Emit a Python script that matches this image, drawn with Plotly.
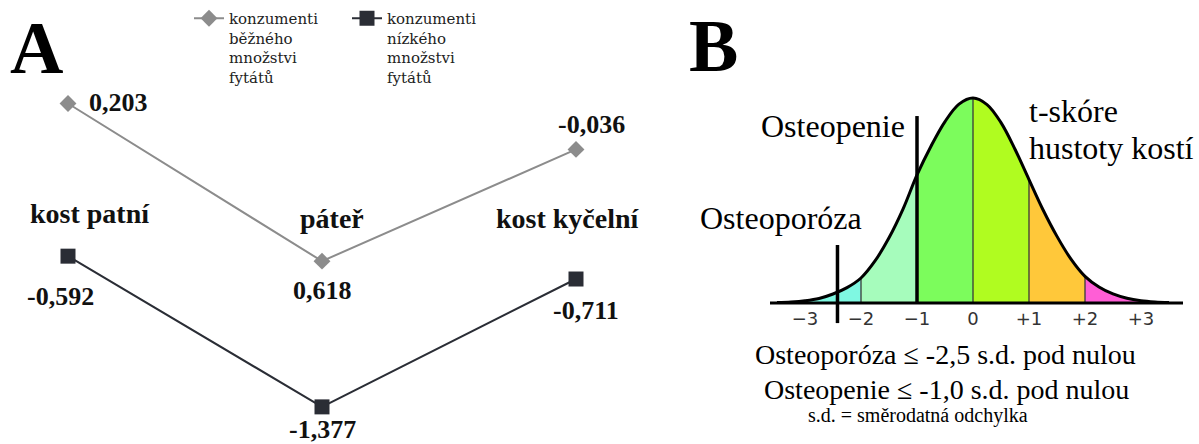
import plotly.graph_objects as go

# ---------------- Panel A data ----------------
categories = ["kost patní", "páteř", "kost kyčelní"]
series_regular_name = "konzumenti<br>běžného<br>množstvi<br>fytátů"
series_low_name = "konzumenti<br>nízkého<br>množstvi<br>fytátů"
regular_values = [0.203, -0.618, -0.036]
regular_labels = ["0,203", "0,618", "-0,036"]
low_values = [-0.592, -1.377, -0.711]
low_labels = ["-0,592", "-1,377", "-0,711"]

# ---------------- Panel B data ----------------
sd_x = [-3.5, -3.25, -3.0, -2.75, -2.5, -2.25, -2.0, -1.75, -1.5, -1.25, -1.0,
        -0.75, -0.5, -0.25, 0.0, 0.25, 0.5, 0.75, 1.0, 1.25, 1.5, 1.75, 2.0,
        2.25, 2.5, 2.75, 3.0, 3.25, 3.5]
curve_h = [0.002, 0.005, 0.011, 0.022, 0.044, 0.075, 0.122, 0.205, 0.318, 0.458, 0.625,
           0.765, 0.885, 0.970, 1.0, 0.968, 0.880, 0.750, 0.602, 0.455, 0.325, 0.214, 0.130,
           0.078, 0.044, 0.023, 0.011, 0.005, 0.002]
band_edges = [-3.5, -2.0, -1.0, 0.0, 1.0, 2.0, 3.5]
band_colors = ["#7ff8e2", "#a6fcbc", "#7cfc5c", "#b0fc20", "#ffc83a", "#ff5ed6"]
divider_x = [-2.0, 0.0, 1.0, 2.0]
tick_vals = [-3, -2, -1, 0, 1, 2, 3]
tick_text = ["\u22123", "\u22122", "\u22121", "0", "+1", "+2", "+3"]
osteopenia_sd = -1.0
osteoporosis_sd = -2.42

W, H = 1199, 444
SERIF = "Liberation Serif, Times New Roman, serif"

fig = go.Figure()

# ---- Panel A traces ----
xa = list(range(len(categories)))
fig.add_trace(go.Scatter(
    x=xa, y=regular_values, name=series_regular_name, mode="lines+markers",
    line=dict(color="#8c8c8c", width=2),
    marker=dict(symbol="diamond", size=13, color="#8c8c8c"),
    xaxis="x", yaxis="y"))
fig.add_trace(go.Scatter(
    x=xa, y=low_values, name=series_low_name, mode="lines+markers",
    line=dict(color="#2a2d35", width=2),
    marker=dict(symbol="square", size=15, color="#2a2d35"),
    xaxis="x", yaxis="y"))

annotations = []
# data labels
reg_shift = [(50, 1), (0, -29), (15, 25)]
low_shift = [(-8, -40), (0, -23), (10, -31)]
for i in range(3):
    annotations.append(dict(x=xa[i], y=regular_values[i], xref="x", yref="y",
                            text="<b>%s</b>" % regular_labels[i], showarrow=False,
                            xanchor="center", yanchor="middle",
                            xshift=reg_shift[i][0], yshift=reg_shift[i][1],
                            font=dict(family=SERIF, size=26, color="#111")))
    annotations.append(dict(x=xa[i], y=low_values[i], xref="x", yref="y",
                            text="<b>%s</b>" % low_labels[i], showarrow=False,
                            xanchor="center", yanchor="middle",
                            xshift=low_shift[i][0], yshift=low_shift[i][1],
                            font=dict(family=SERIF, size=26, color="#111")))
# category labels
cat_shift = [22, 10, -8]
cat_y = [213, 218, 218]
for i, c in enumerate(categories):
    annotations.append(dict(x=xa[i], y=1 - cat_y[i] / H, xref="x", yref="paper",
                            text="<b>%s</b>" % c, showarrow=False, xshift=cat_shift[i],
                            xanchor="center", yanchor="middle",
                            font=dict(family=SERIF, size=28, color="#111")))


def ann_p(text, cx, cy, size, xanchor="center", bold=False):
    annotations.append(dict(x=cx / W, y=1 - cy / H, xref="paper", yref="paper",
                            text=("<b>%s</b>" % text) if bold else text,
                            showarrow=False, xanchor=xanchor, yanchor="middle",
                            font=dict(family=SERIF, size=size, color="#000")))


# panel letters
ann_p("A", 36, 48, 74, bold=True)
ann_p("B", 713, 46, 74, bold=True)

# ---- Panel B traces ----
for k in range(len(band_colors)):
    a, b = band_edges[k], band_edges[k + 1]
    xs = [x for x in sd_x if a <= x <= b]
    ys = [curve_h[sd_x.index(x)] for x in xs]
    fig.add_trace(go.Scatter(
        x=[a] + xs + [b], y=[0] + ys + [0], mode="lines", fill="toself",
        fillcolor=band_colors[k], line=dict(width=0, color=band_colors[k]),
        showlegend=False, hoverinfo="skip", xaxis="x2", yaxis="y2"))

for d in divider_x:
    fig.add_trace(go.Scatter(
        x=[d, d], y=[0, curve_h[sd_x.index(d)]], mode="lines",
        line=dict(color="#3a3a3a", width=1.3), showlegend=False, hoverinfo="skip",
        xaxis="x2", yaxis="y2"))

fig.add_trace(go.Scatter(
    x=sd_x, y=curve_h, mode="lines", line=dict(color="#000", width=3, shape="spline"),
    showlegend=False, hoverinfo="skip", xaxis="x2", yaxis="y2"))
fig.add_trace(go.Scatter(
    x=[-3.625, 3.75], y=[0, 0], mode="lines", line=dict(color="#000", width=3),
    showlegend=False, hoverinfo="skip", xaxis="x2", yaxis="y2"))
fig.add_trace(go.Scatter(
    x=[osteopenia_sd, osteopenia_sd], y=[0, 0.912], mode="lines",
    line=dict(color="#000", width=3.5), showlegend=False, hoverinfo="skip",
    xaxis="x2", yaxis="y2"))
fig.add_trace(go.Scatter(
    x=[osteoporosis_sd, osteoporosis_sd], y=[-0.098, 0.283], mode="lines",
    line=dict(color="#000", width=3.5), showlegend=False, hoverinfo="skip",
    xaxis="x2", yaxis="y2"))
fig.add_trace(go.Scatter(
    x=tick_vals, y=[-0.085] * len(tick_vals), mode="text", text=tick_text,
    textfont=dict(family="DejaVu Sans, sans-serif", size=18, color="#333"),
    showlegend=False, hoverinfo="skip", xaxis="x2", yaxis="y2"))

ann_p("Osteopenie", 833, 126, 32)
ann_p("Osteoporóza", 781, 218, 32)
ann_p("t-skóre", 1027, 111, 32, "left")
ann_p("hustoty kostí", 1027, 148, 32, "left")
ann_p("Osteoporóza \u2264 -2,5 s.d. pod nulou", 945, 354, 28)
ann_p("Osteopenie \u2264 -1,0 s.d. pod nulou", 946, 389, 28)
ann_p("s.d. = směrodatná odchylka", 918, 415, 20)

# axes geometry
xA_dom = [0, 650 / W]
xA_range = [-68 / 254, (650 - 68) / 254]
yA_range = [(142.5 - H) / 192, 142.5 / 192]
xB_dom = [690 / W, 1]
xB_range = [(690 - 973) / 56, (W - 973) / 56]
yB_range = [(303 - H) / 205, 303 / 205]

fig.update_layout(
    width=W, height=H, autosize=False,
    margin=dict(l=0, r=0, t=0, b=0),
    paper_bgcolor="white", plot_bgcolor="white",
    xaxis=dict(domain=xA_dom, range=xA_range, visible=False),
    yaxis=dict(domain=[0, 1], range=yA_range, visible=False),
    xaxis2=dict(domain=xB_dom, range=xB_range, visible=False, anchor="y2"),
    yaxis2=dict(domain=[0, 1], range=yB_range, visible=False, anchor="x2"),
    showlegend=True,
    legend=dict(orientation="h", x=189 / W, y=1 - 2 / H, xanchor="left", yanchor="top",
                valign="top", bgcolor="rgba(0,0,0,0)", entrywidth=113,
                font=dict(family="DejaVu Serif, serif", size=15, color="#222")),
    annotations=annotations,
)

fig.write_html("out.html", config={"displayModeBar": False},
               post_script="document.body.style.margin='0';")
